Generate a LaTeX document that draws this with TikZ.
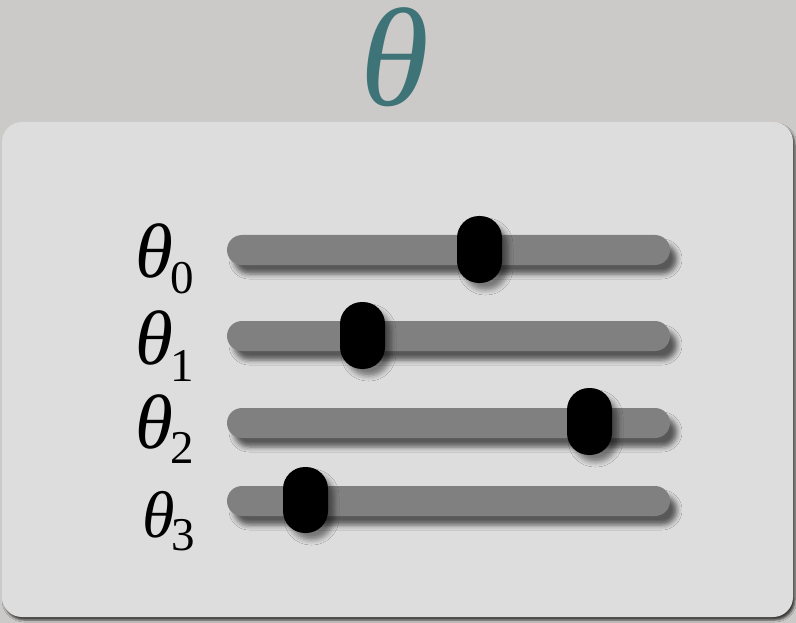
\documentclass[tikz,border=0pt]{standalone}
\usepackage{fontspec}
\setmainfont{Liberation Serif}
\usetikzlibrary{shadows.blur}
\definecolor{bgcol}{HTML}{CCCAC8}
\definecolor{panelcol}{HTML}{DDDDDD}
\definecolor{trackcol}{HTML}{808080}
\definecolor{titlecol}{HTML}{3E7478}
\tikzset{
  panel/.style={fill=panelcol, rounded corners=20pt, blur shadow={shadow xshift=2pt, shadow yshift=-3pt, shadow blur radius=2pt, shadow opacity=70}},
  track/.style={fill=trackcol, rounded corners=15pt, blur shadow={shadow xshift=7pt, shadow yshift=-9pt, shadow blur radius=5pt, shadow blur extra rounding=0pt, shadow opacity=60}},
  knob/.style={fill=black, rounded corners=22pt, blur shadow={shadow xshift=6pt, shadow yshift=-7pt, shadow blur radius=5pt, shadow blur extra rounding=0pt, shadow opacity=45}},
  lbl/.style={anchor=base west, inner sep=0pt, font=\fontsize{77}{77}\selectfont\itshape},
  lblsmall/.style={anchor=base west, inner sep=0pt, font=\fontsize{66}{66}\selectfont\itshape},
}
\newcommand{\subdig}[2]{\raisebox{-#1}{\upshape\fontsize{47}{47}\selectfont #2}}
\begin{document}
\begin{tikzpicture}[x=1pt,y=-1pt]
\fill[bgcol] (0,0) rectangle (796,623);
\useasboundingbox (0,0) rectangle (796,623);
\path[panel] (2,122) rectangle (793,617);
\node[anchor=base, inner sep=0pt, text=titlecol, font=\fontsize{140}{140}\selectfont\itshape] (title) at (395,106) {θ};
% tracks
\path[track] (227,235) rectangle (670,265);
\path[track] (227,321) rectangle (670,351);
\path[track] (227,408) rectangle (670,438);
\path[track] (227,486) rectangle (670,516);
% knobs
\path[knob] (457,216) rectangle (502,283);
\path[knob] (340,302) rectangle (385,369);
\path[knob] (567,388) rectangle (612,455);
\path[knob] (283,467) rectangle (328,533);
% labels
\node[lbl] (t0) at (135,277) {θ\kern-3pt\subdig{16pt}{0}};
\node[lbl] (t1) at (135,364) {θ\kern-3pt\subdig{17pt}{1}};
\node[lbl] (t2) at (135,448) {θ\kern-3pt\subdig{15pt}{2}};
\node[lblsmall] (t3) at (142,537) {θ\kern-3pt\subdig{13pt}{3}};
\end{tikzpicture}
\end{document}
